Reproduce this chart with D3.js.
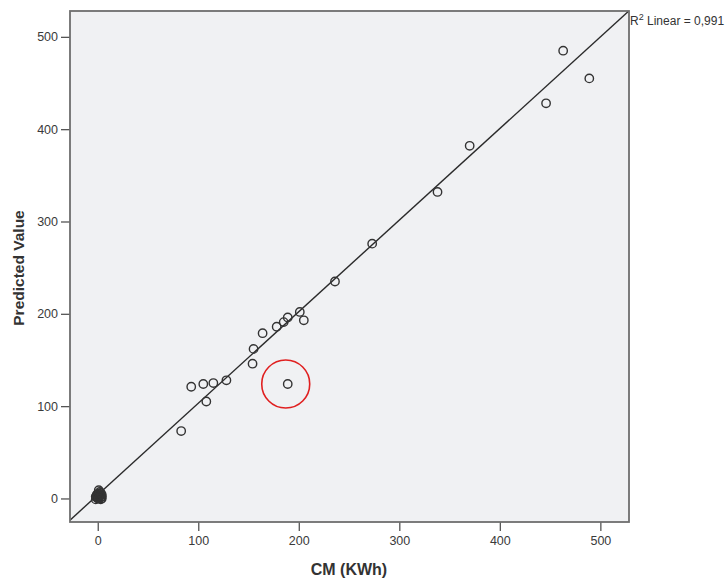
<!DOCTYPE html>
<html>
<head>
<meta charset="utf-8">
<script src="https://cdn.jsdelivr.net/npm/d3@7"></script>
<style>
  html, body { margin: 0; padding: 0; background: #ffffff; }
  svg { display: block; font-family: Arial, "Liberation Sans", sans-serif; }
</style>
</head>
<body>
<svg id="chart" width="726" height="579"></svg>
<script>
// Observed energy (CM, kWh) against model prediction
const cmValues = [463, 489, 446, 370, 338, 273, 236, 201, 205, 189, 185, 178, 164, 155, 154, 189, 128, 115, 105, 93, 108, 83,
                  1, -2, 0, 2, 4, 1, 3, -1, 3, 4, 0, 1, 3, -2, 2, 0, 2, -1, 1, 4];
const predictedValues = [485, 455, 428, 382, 332, 276, 235, 202, 193, 196, 191, 186, 179, 162, 146, 124, 128, 125, 124, 121, 105, 73,
                  9, 2, 0, 5, 2, 5, -1, 4, 6, 0, 5, 2, 1, -1, 3, 3, 7, 1, 0, 4];
const outlierIndex = [15];           // highlighted observation
const xTicks = [0, 100, 200, 300, 400, 500];
const yTicks = [0, 100, 200, 300, 400, 500];
const fitSlope = 0.992;
const fitIntercept = 3.9;
const rSquaredText = "0,991";
const xTitle = "CM (KWh)";
const yTitle = "Predicted Value";

const svg = d3.select("#chart");
const plot = { left: 70, top: 11, right: 629, bottom: 522 };

const x = d3.scaleLinear().domain([-27.6, 528.5]).range([plot.left, plot.right]);
const y = d3.scaleLinear().domain([-25.5, 528]).range([plot.bottom, plot.top]);

// plot background
svg.append("rect")
  .attr("x", plot.left).attr("y", plot.top)
  .attr("width", plot.right - plot.left).attr("height", plot.bottom - plot.top)
  .attr("fill", "#f0f1f3");

svg.append("clipPath").attr("id", "plotClip")
  .append("rect")
  .attr("x", plot.left).attr("y", plot.top)
  .attr("width", plot.right - plot.left).attr("height", plot.bottom - plot.top);

// axes
const xAxis = svg.append("g")
  .attr("transform", `translate(0,${plot.bottom})`)
  .call(d3.axisBottom(x).tickValues(xTicks).tickSize(9).tickPadding(5).tickSizeOuter(0));
const yAxis = svg.append("g")
  .attr("transform", `translate(${plot.left},0)`)
  .call(d3.axisLeft(y).tickValues(yTicks).tickSize(9).tickPadding(3).tickSizeOuter(0));

[xAxis, yAxis].forEach(g => {
  g.select(".domain").remove();
  g.selectAll(".tick line").attr("stroke", "#555").attr("stroke-width", 1.3);
  g.selectAll(".tick text").attr("fill", "#3a3a3a").style("font-size", "12.5px")
    .style("font-family", "Arial, 'Liberation Sans', sans-serif");
});

// fit line
const xd = x.domain();
svg.append("line")
  .attr("clip-path", "url(#plotClip)")
  .attr("x1", x(xd[0])).attr("y1", y(fitSlope * xd[0] + fitIntercept))
  .attr("x2", x(xd[1])).attr("y2", y(fitSlope * xd[1] + fitIntercept))
  .attr("stroke", "#2a2a2a").attr("stroke-width", 1.4);

// data points
const points = cmValues.map((v, i) => ({ cm: v, pred: predictedValues[i] }));
svg.append("g").attr("clip-path", "url(#plotClip)")
  .selectAll("circle").data(points).join("circle")
  .attr("cx", d => x(d.cm)).attr("cy", d => y(d.pred))
  .attr("r", 4.2)
  .attr("fill", "none")
  .attr("stroke", "#333")
  .attr("stroke-width", 1.4);

// highlight ring around the outlier
outlierIndex.forEach(i => {
  svg.append("circle")
    .attr("cx", x(cmValues[i]) - 2).attr("cy", y(predictedValues[i]))
    .attr("r", 24)
    .attr("fill", "none")
    .attr("stroke", "#e02020")
    .attr("stroke-width", 1.6);
});

// frame
svg.append("rect")
  .attr("x", plot.left).attr("y", plot.top)
  .attr("width", plot.right - plot.left).attr("height", plot.bottom - plot.top)
  .attr("fill", "none").attr("stroke", "#6e6e6e").attr("stroke-width", 1.8);

// R² annotation
const rText = svg.append("text")
  .attr("x", plot.right + 1).attr("y", 25)
  .attr("fill", "#333").style("font-size", "12px");
rText.append("tspan").text("R");
rText.append("tspan").attr("dy", -5).style("font-size", "9px").text("2");
rText.append("tspan").attr("dy", 5).text(" Linear = " + rSquaredText);

// axis titles
svg.append("text")
  .attr("x", 349).attr("y", 575)
  .attr("text-anchor", "middle")
  .attr("fill", "#333")
  .style("font-size", "16px").style("font-weight", "bold")
  .text(xTitle);

svg.append("text")
  .attr("transform", "translate(24,268) rotate(-90)")
  .attr("text-anchor", "middle")
  .attr("fill", "#333")
  .style("font-size", "15.5px").style("font-weight", "bold")
  .text(yTitle);
</script>
</body>
</html>
